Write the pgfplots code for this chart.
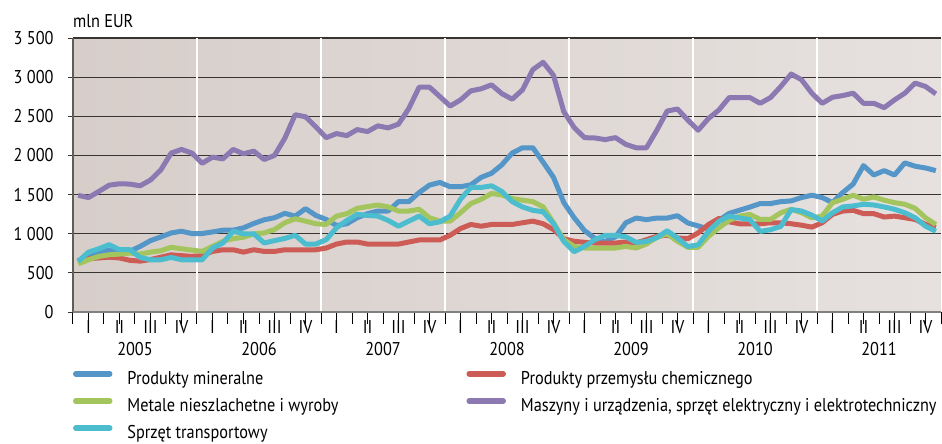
\documentclass[border=0pt]{standalone}
\usepackage{pgfplots}
\pgfplotsset{compat=1.18}
\usepackage{pgfplotstable}
\usepackage{fontspec}
\setmainfont{PT Sans}[FakeStretch=0.88]
\definecolor{cBlue}{RGB}{84,150,200}
\definecolor{cRed}{RGB}{205,92,86}
\definecolor{cGreen}{RGB}{164,197,94}
\definecolor{cPurple}{RGB}{140,121,178}
\definecolor{cCyan}{RGB}{76,189,207}
\definecolor{bgL}{RGB}{215,206,202}
\definecolor{bgR}{RGB}{230,225,223}
\definecolor{gridc}{RGB}{55,52,50}

\pgfplotstableread{
i blue red green purple cyan
0.5 654 640 615 1490 645
1.5 720 680 667 1462 765
2.5 760 690 710 1540 808
3.5 790 700 731 1620 860
4.5 790 690 740 1638 796
5.5 775 660 752 1634 796
6.5 838 650 740 1612 697
7.5 912 670 765 1686 667
8.5 959 700 783 1815 667
9.5 1010 730 826 2030 697
10.5 1032 720 808 2077 667
11.5 1002 710 791 2030 667
12.5 1002 722 774 1900 667
13.5 1023 774 838 1978 817
14.5 1045 795 903 1956 882
15.5 1045 795 937 2077 1032
16.5 1075 765 955 2021 998
17.5 1131 795 998 2055 998
18.5 1178 774 1010 1948 882
19.5 1204 774 1053 2000 912
20.5 1260 795 1140 2220 940
21.5 1225 795 1191 2520 980
22.5 1320 795 1161 2494 868
23.5 1234 795 1127 2365 868
24.5 1182 817 1118 2227 924
25.5 1105 868 1225 2279 1075
26.5 1127 894 1256 2253 1170
27.5 1204 894 1324 2330 1247
28.5 1256 868 1346 2305 1234
29.5 1290 868 1367 2378 1225
30.5 1290 868 1342 2352 1170
31.5 1410 868 1290 2400 1096
32.5 1410 894 1290 2600 1161
33.5 1526 920 1312 2872 1225
34.5 1621 920 1204 2872 1127
35.5 1655 920 1161 2752 1152
36.5 1600 980 1161 2631 1225
37.5 1600 1066 1268 2709 1440
38.5 1625 1118 1385 2825 1591
39.5 1720 1096 1440 2851 1591
40.5 1772 1118 1514 2902 1612
41.5 1880 1118 1495 2790 1540
42.5 2030 1118 1449 2718 1410
43.5 2098 1140 1428 2838 1342
44.5 2098 1161 1410 3096 1299
45.5 1913 1127 1342 3190 1280
46.5 1720 1053 1140 3023 1130
47.5 1397 937 924 2558 900
48.5 1204 903 838 2356 770
49.5 1040 890 817 2227 838
50.5 940 881 817 2223 924
51.5 900 881 817 2202 980
52.5 960 881 817 2227 980
53.5 1140 894 838 2141 960
54.5 1200 881 817 2098 890
55.5 1180 924 868 2098 900
56.5 1200 967 955 2322 950
57.5 1200 980 998 2567 1038
58.5 1230 946 903 2593 944
59.5 1137 937 826 2451 836
60.5 1100 1010 826 2322 858
61.5 1060 1118 967 2472 1030
62.5 1170 1195 1075 2580 1158
63.5 1260 1152 1170 2739 1223
64.5 1300 1127 1225 2739 1201
65.5 1340 1127 1247 2739 1180
66.5 1385 1127 1182 2666 1030
67.5 1385 1140 1182 2739 1051
68.5 1410 1140 1268 2881 1094
69.5 1419 1127 1312 3040 1309
70.5 1462 1109 1268 2967 1290
71.5 1492 1084 1204 2795 1238
72.5 1462 1140 1225 2666 1161
73.5 1398 1247 1397 2743 1268
74.5 1527 1290 1440 2765 1342
75.5 1634 1299 1492 2795 1355
76.5 1870 1256 1440 2666 1376
77.5 1750 1256 1470 2666 1367
78.5 1806 1213 1428 2610 1342
79.5 1750 1225 1397 2709 1312
80.5 1905 1204 1376 2795 1268
81.5 1862 1182 1324 2924 1204
82.5 1840 1120 1204 2881 1096
83.5 1806 1080 1118 2786 1032
}\datatable

\begin{document}
\fontsize{18.5bp}{21bp}\selectfont
\begin{tikzpicture}
\path[use as bounding box] (-73bp,-132bp) rectangle (869bp,312bp);
\begin{axis}[
  at={(0,0)}, anchor=south west,
  scale only axis, width=868bp, height=274bp,
  xmin=0, xmax=84, ymin=0, ymax=3500,
  axis line style={draw=none},
  axis background/.style={left color=bgL, right color=bgR},
  ytick={0,500,...,3500},
  ymajorgrids,
  grid style={line width=1.2bp, color=gridc},
  ytick pos=left, ytick align=outside,
  ytick style={color=gridc, line width=1bp, /pgfplots/major tick length=5bp},
  yticklabel style={anchor=east, inner sep=0pt, xshift=-15bp},
  /pgf/number format/assume math mode=true,
  /pgf/number format/1000 sep={\ },
  xtick={0,3,...,84},
  xticklabel=\empty,
  xtick pos=bottom, xtick align=outside,
  xtick style={color=black, line width=1bp, /pgfplots/major tick length=12bp},
  extra x ticks={1.5,4.5,...,82.5},
  extra x tick labels={I,II,III,IV,I,II,III,IV,I,II,III,IV,I,II,III,IV,I,II,III,IV,I,II,III,IV,I,II,III,IV},
  extra x tick style={/pgfplots/major tick length=0pt, grid=none,
     xticklabel style={anchor=north, inner sep=0pt, yshift=-8bp}},
  legend columns=2,
  legend cell align=left,
  legend style={at={(axis description cs:0,0)}, anchor=north west,
     yshift=-59bp, draw=none, fill=none, inner sep=0pt, outer sep=0pt,
     row sep=11bp,
     nodes={inner sep=0pt},
     /tikz/every odd column/.append style={column sep=15bp},
     /tikz/every even column/.append style={column sep=128bp}},
  legend image code/.code={\draw[#1, line width=5.5bp, line cap=round] (0bp,0.3em) -- (34bp,0.3em);},
  clip=false,
]
\foreach \xx in {12,24,36,48,60,72} {
  \edef\tmp{\noexpand\draw[white, line width=1.4bp] (axis cs:\xx,0) -- (axis cs:\xx,3500);}
  \tmp
}
\draw[gridc!80, line width=1.6bp] (axis cs:0,0) -- (axis cs:0,3500);
\draw[gray, line width=2bp] (axis cs:0,0) -- (axis cs:84,0);

\addplot[cBlue, line width=5bp, line join=round] table[x=i, y=blue] {\datatable};
\addlegendentry{Produkty mineralne}
\addplot[cRed, line width=5bp, line join=round] table[x=i, y=red] {\datatable};
\addlegendentry{Produkty przemysłu chemicznego}
\addplot[cGreen, line width=5bp, line join=round] table[x=i, y=green] {\datatable};
\addlegendentry{Metale nieszlachetne i wyroby}
\addplot[cPurple, line width=5bp, line join=round] table[x=i, y=purple] {\datatable};
\addlegendentry{Maszyny i urządzenia, sprzęt elektryczny i elektrotechniczny}
\addplot[cCyan, line width=5bp, line join=round] table[x=i, y=cyan] {\datatable};
\addlegendentry{Sprzęt transportowy}

\node[anchor=base west, inner sep=0pt] at ([yshift=11bp]axis description cs:0,1) {mln EUR};
\node[anchor=north, inner sep=0pt] at ([yshift=-30bp]axis cs:6,0) {2005};
\node[anchor=north, inner sep=0pt] at ([yshift=-30bp]axis cs:18,0) {2006};
\node[anchor=north, inner sep=0pt] at ([yshift=-30bp]axis cs:30,0) {2007};
\node[anchor=north, inner sep=0pt] at ([yshift=-30bp]axis cs:42,0) {2008};
\node[anchor=north, inner sep=0pt] at ([yshift=-30bp]axis cs:54,0) {2009};
\node[anchor=north, inner sep=0pt] at ([yshift=-30bp]axis cs:66,0) {2010};
\node[anchor=north, inner sep=0pt] at ([yshift=-30bp]axis cs:78,0) {2011};
\end{axis}
\end{tikzpicture}
\end{document}
